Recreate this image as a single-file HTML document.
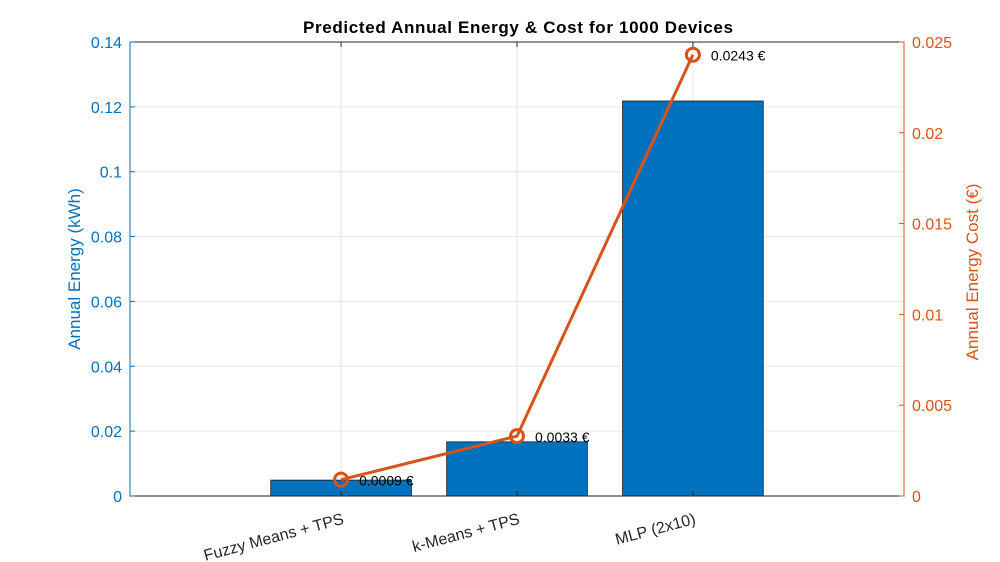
<!DOCTYPE html>
<html><head><meta charset="utf-8"><style>
body{margin:0;background:#fff}
svg{display:block;font-family:"Liberation Sans",Arial,sans-serif}
</style></head><body>
<svg id="chart" width="1000" height="562"></svg>
<script>
const categories=["Fuzzy Means + TPS","k-Means + TPS","MLP (2x10)"];
const energyValues=[0.0049,0.0167,0.1218];
const costValues=[0.0009,0.0033,0.0243];
const costLabels=["0.0009 €","0.0033 €","0.0243 €"];
const leftTicks=[0,0.02,0.04,0.06,0.08,0.1,0.12,0.14];
const leftTickLabels=["0","0.02","0.04","0.06","0.08","0.1","0.12","0.14"];
const rightTicks=[0,0.005,0.01,0.015,0.02,0.025];
const rightTickLabels=["0","0.005","0.01","0.015","0.02","0.025"];

const NS="http://www.w3.org/2000/svg";
const svg=document.getElementById('chart');
const L=130,R=904,T=42,B=496;
const xS=v=>L+(v+0.2)/4.4*(R-L);
const yL=v=>B-v/0.14*(B-T);
const yR=v=>B-v/0.025*(B-T);
function mk(tag,attrs,parent){const e=document.createElementNS(NS,tag);for(const k in attrs)e.setAttribute(k,attrs[k]);(parent||svg).appendChild(e);return e;}
const blue="#0072BD",orange="#D95319";

const bg=mk('rect',{x:L,y:T,width:R-L,height:B-T,fill:'#fff'});


leftTicks.forEach(t=>{const g=mk('line',{x1:L,x2:R,y1:yL(t),y2:yL(t),stroke:'#e6e6e6','stroke-width':1});

});
categories.forEach((c,i)=>{const g=mk('line',{x1:xS(i+1),x2:xS(i+1),y1:T,y2:B,stroke:'#e6e6e6','stroke-width':1});

});

energyValues.forEach((v,i)=>{const x0=xS(i+1-0.4),x1=xS(i+1+0.4);
const b=mk('rect',{x:x0,y:yL(v),width:x1-x0,height:B-yL(v),fill:blue,stroke:'#1a1a1a','stroke-width':0.8});

});

const box=mk('rect',{x:L,y:T,width:R-L,height:B-T,fill:'none',stroke:'#262626','stroke-width':1});


mk('line',{x1:L,x2:L,y1:T,y2:B,stroke:blue,'stroke-width':1});
mk('line',{x1:R,x2:R,y1:T,y2:B,stroke:orange,'stroke-width':1});

categories.forEach((c,i)=>{const x=xS(i+1);
mk('line',{x1:x,x2:x,y1:B,y2:B-5,stroke:'#262626'});
mk('line',{x1:x,x2:x,y1:T,y2:T+5,stroke:'#262626'});
const t=mk('text',{x:x,y:B+28,'text-anchor':'end','font-size':16,fill:'#262626',transform:`rotate(-15 ${x} ${B+14})`});
t.textContent=c;

});

leftTicks.forEach((t,i)=>{const y=yL(t);
mk('line',{x1:L,x2:L+5,y1:y,y2:y,stroke:blue});
const tx=mk('text',{x:L-8,y:y+6,'text-anchor':'end','font-size':16,fill:blue});
tx.textContent=leftTickLabels[i];

});
rightTicks.forEach((t,i)=>{const y=yR(t);
mk('line',{x1:R,x2:R-5,y1:y,y2:y,stroke:orange});
const tx=mk('text',{x:R+8,y:y+6,'font-size':16,fill:orange});
tx.textContent=rightTickLabels[i];

});

const pts=costValues.map((v,i)=>xS(i+1)+','+yR(v)).join(' ');
const pl=mk('polyline',{points:pts,fill:'none',stroke:orange,'stroke-width':3});


costValues.forEach((v,i)=>{
const c=mk('circle',{cx:xS(i+1),cy:yR(v),r:6.5,fill:'none',stroke:orange,'stroke-width':3});


const t=mk('text',{x:xS(i+1)+18,y:yR(v)+6,'font-size':14,fill:'#000'});
t.textContent=costLabels[i];

});

const title=mk('text',{x:(L+R)/2+1,y:33,'text-anchor':'middle','font-size':17,'font-weight':'bold',fill:'#000',textLength:430});
title.textContent="Predicted Annual Energy & Cost for 1000 Devices";


const yl=mk('text',{x:0,y:0,'text-anchor':'middle','font-size':17,fill:blue,transform:`translate(80 ${(T+B)/2}) rotate(-90)`});
yl.textContent="Annual Energy (kWh)";


const yr=mk('text',{x:0,y:0,'text-anchor':'middle','font-size':17,fill:orange,transform:`translate(978 ${(T+B)/2+3}) rotate(-90)`});
yr.textContent="Annual Energy Cost (€)";


</script>
</body></html>
